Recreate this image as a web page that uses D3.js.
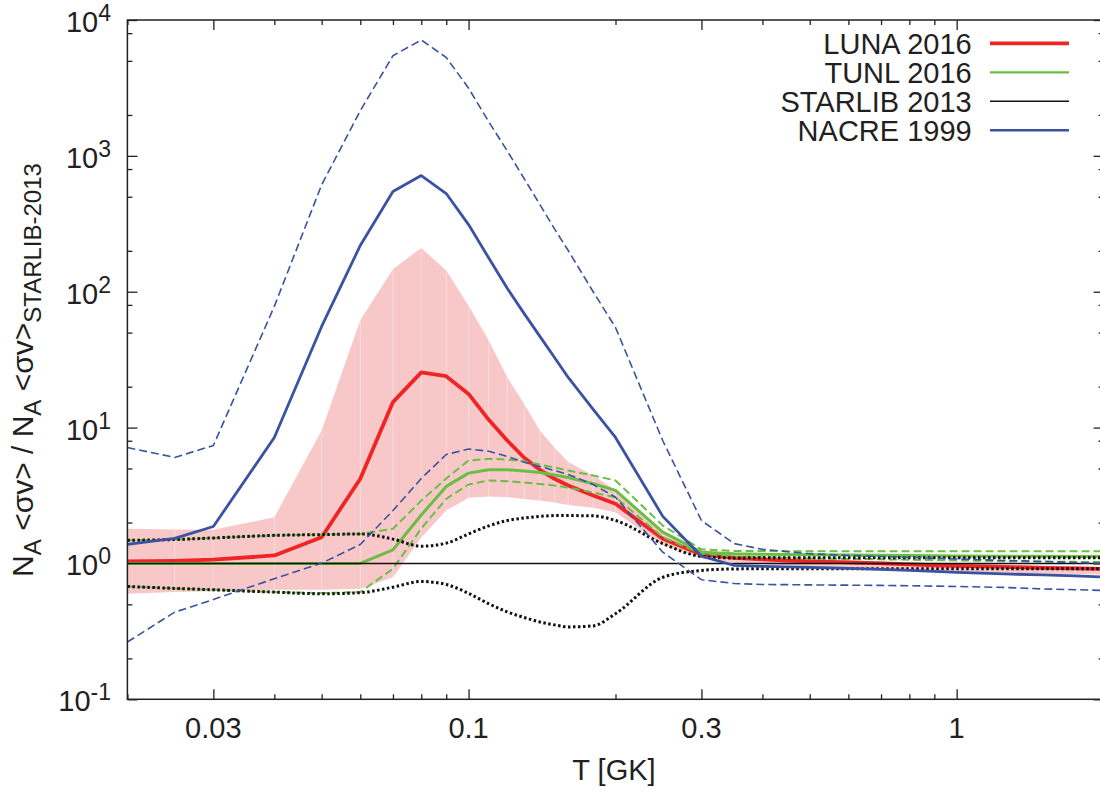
<!DOCTYPE html>
<meta charset="utf-8">
<script src="https://d3js.org/d3.v7.min.js"></script>
<style>
  body { margin: 0; background: #fff; }
  text { font-family: "Liberation Sans", Arial, Helvetica, sans-serif; fill: #231f20; }
</style>
<div id="chart"></div>
<script>

// temperature grid [GK]
var T = [0.02, 0.025, 0.03, 0.04, 0.05, 0.06, 0.07, 0.08, 0.09, 0.1, 0.11, 0.12, 0.13, 0.14, 0.15, 0.16, 0.18, 0.2,
         0.25, 0.3, 0.35, 0.4, 0.45, 0.5, 0.6, 0.7, 0.8, 0.9, 1, 1.25, 1.5, 1.75, 2];

// rate ratios to STARLIB 2013
var luna   = [1.034, 1.046, 1.065, 1.145, 1.56, 4.2, 15.4, 25.5, 23.9, 17.7, 11.4, 8.03, 6.0, 4.89, 4.2, 3.75, 3.16, 2.75,
              1.52, 1.165, 1.098, 1.07, 1.05, 1.034, 1.017, 1.0, 0.983, 0.97, 0.958, 0.942, 0.927, 0.92, 0.911];
var lunaHi = [1.8, 1.78, 1.77, 2.19, 9.52, 61.6, 147, 210, 143, 79, 43.8, 23.5, 14.9, 9.52, 7.14, 5.57, 4.44, 3.45,
              1.75, 1.25, 1.17, 1.13, 1.11, 1.09, 1.06, 1.04, 1.02, 1.01, 1.0, 0.98, 0.965, 0.955, 0.945];
var lunaLo = [0.598, 0.615, 0.625, 0.64, 0.64, 0.65, 0.79, 1.55, 2.45, 3.05, 3.11, 3.07, 2.98, 2.91, 2.81, 2.69, 2.57, 2.38,
              1.36, 1.09, 1.02, 0.99, 0.97, 0.955, 0.93, 0.91, 0.895, 0.88, 0.87, 0.855, 0.845, 0.835, 0.83];

var tunl   = [1, 1, 1, 1, 1, 1, 1.26, 2.27, 3.69, 4.62, 4.89, 4.89, 4.79, 4.67, 4.48, 4.29, 3.86, 3.45,
              1.70, 1.21, 1.178, 1.17, 1.165, 1.16, 1.155, 1.15, 1.145, 1.14, 1.135, 1.13, 1.128, 1.127, 1.126];
var tunlHi = [1.48, 1.5, 1.54, 1.61, 1.63, 1.65, 1.8, 2.9, 4.22, 5.72, 5.89, 5.82, 5.63, 5.34, 5.08, 4.83, 4.44, 4.08,
              1.9, 1.27, 1.236, 1.233, 1.232, 1.232, 1.231, 1.231, 1.23, 1.23, 1.23, 1.23, 1.23, 1.23, 1.23];
var tunlLo = [0.677, 0.655, 0.64, 0.615, 0.605, 0.615, 0.914, 1.81, 2.99, 3.81, 4.08, 4.03, 3.94, 3.84, 3.75, 3.62, 3.33, 3.07,
              1.56, 1.18, 1.126, 1.11, 1.10, 1.088, 1.08, 1.072, 1.065, 1.058, 1.052, 1.04, 1.032, 1.027, 1.022];

var starlib   = [1, 1, 1, 1, 1, 1, 1, 1, 1, 1, 1, 1, 1, 1, 1, 1, 1, 1, 1, 1, 1, 1, 1, 1, 1, 1, 1, 1, 1, 1, 1, 1, 1];
var starlibHi = [1.48, 1.5, 1.54, 1.61, 1.63, 1.65, 1.51, 1.34, 1.41, 1.65, 1.89, 2.07, 2.16, 2.22, 2.25, 2.25, 2.24, 2.07,
                 1.40, 1.126, 1.098, 1.10, 1.10, 1.10, 1.10, 1.10, 1.10, 1.10, 1.10, 1.10, 1.10, 1.10, 1.10];
var starlibLo = [0.677, 0.655, 0.64, 0.615, 0.598, 0.609, 0.669, 0.737, 0.70, 0.602, 0.505, 0.44, 0.40, 0.371, 0.353, 0.341, 0.347, 0.427,
                 0.79, 0.888, 0.911, 0.914, 0.914, 0.914, 0.914, 0.914, 0.914, 0.914, 0.914, 0.914, 0.914, 0.914, 0.914];

var nacre   = [1.38, 1.53, 1.87, 8.45, 55.5, 219, 546, 716, 528, 312, 177, 106, 69, 46.9, 32.8, 23.4, 13.6, 8.46,
               2.22, 1.13, 0.967, 0.95, 0.942, 0.935, 0.919, 0.903, 0.888, 0.873, 0.858, 0.837, 0.823, 0.809, 0.796];
var nacreHi = [7.13, 6.03, 7.38, 78, 612, 2150, 5460, 7130, 5300, 3150, 1780, 1090, 680, 438, 290, 201, 100, 54.5,
               8.0, 2.07, 1.40, 1.27, 1.22, 1.18, 1.145, 1.126, 1.107, 1.093, 1.079, 1.052, 1.034, 1.017, 1.0];
var nacreLo = [0.264, 0.438, 0.543, 0.772, 1.005, 1.38, 2.45, 4.22, 6.34, 6.95, 6.7, 6.13, 5.56, 5.17, 4.83, 4.52, 3.81, 3.07,
               1.21, 0.759, 0.712, 0.70, 0.698, 0.695, 0.692, 0.689, 0.685, 0.681, 0.677, 0.666, 0.649, 0.641, 0.633];

// ticks
var xMajor = [0.03, 0.1, 0.3, 1];
var xMajorLabels = ["0.03", "0.1", "0.3", "1"];
var xMinor = [0.02, 0.04, 0.05, 0.06, 0.07, 0.08, 0.09, 0.2, 0.4, 0.5, 0.6, 0.7, 0.8, 0.9, 2];
var yMajor = [0.1, 1, 10, 100, 1000, 10000];
var yExponents = ["-1", "0", "1", "2", "3", "4"];
var yMinor = [0.2, 0.5, 0.8, 2, 5, 8, 20, 50, 80, 200, 500, 800, 2000, 5000, 8000];

var legendNames = ["LUNA 2016", "TUNL 2016", "STARLIB 2013", "NACRE 1999"];

var red = "#ee2524", green = "#6bbd45", blue = "#3a52a2", black = "#111", pink = "#f8c8c9";

var W = 1100, H = 793;
var mLeft = 127.4, mRight = 1103.6, mTop = 20, mBottom = 699.3;

var svg = d3.select("#chart").append("svg")
    .attr("width", W).attr("height", H);
svg.append("rect").attr("width", W).attr("height", H).attr("fill", "#fff");

var x = d3.scaleLog().domain([0.02, 2]).range([mLeft, mRight]);
var y = d3.scaleLog().domain([0.1, 10000]).range([mBottom, mTop]);

// ---- ticks (drawn behind the data) ----
function tickAxis(axis, tr) {
  var g = svg.append("g").attr("transform", tr).call(axis);
  g.select(".domain").remove();
  g.selectAll(".tick line").attr("stroke", "#231f20").attr("stroke-width", 1.3);
  g.selectAll(".tick text").remove();
  return g;
}
tickAxis(d3.axisBottom(x).tickValues(xMajor).tickSize(-10), "translate(0," + mBottom + ")");
tickAxis(d3.axisBottom(x).tickValues(xMinor).tickSize(-5), "translate(0," + mBottom + ")");
tickAxis(d3.axisTop(x).tickValues(xMajor).tickSize(-10), "translate(0," + mTop + ")");
tickAxis(d3.axisTop(x).tickValues(xMinor).tickSize(-5), "translate(0," + mTop + ")");
tickAxis(d3.axisLeft(y).tickValues(yMajor).tickSize(-10), "translate(" + mLeft + ",0)");
tickAxis(d3.axisLeft(y).tickValues(yMinor).tickSize(-5), "translate(" + mLeft + ",0)");
tickAxis(d3.axisRight(y).tickValues(yMajor).tickSize(-10), "translate(" + mRight + ",0)");
tickAxis(d3.axisRight(y).tickValues(yMinor).tickSize(-5), "translate(" + mRight + ",0)");

// ---- data ----
svg.append("clipPath").attr("id", "clip")
  .append("rect").attr("x", mLeft).attr("y", mTop).attr("width", mRight - mLeft).attr("height", mBottom - mTop);
var plot = svg.append("g").attr("clip-path", "url(#clip)");

function pts(arr) { return arr.map(function(v, i) { return [T[i], v]; }); }

var band = T.map(function(t, i) { return { t: t, lo: lunaLo[i], hi: lunaHi[i] }; });
plot.append("path")
  .datum(band)
  .attr("fill", pink)
  .attr("d", d3.area()
    .x(function(d) { return x(d.t); })
    .y0(function(d) { return y(d.lo); })
    .y1(function(d) { return y(d.hi); }));
// seams of the filled band
plot.selectAll(".seam")
  .data(band.slice(1, -1))
  .enter().append("line")
  .attr("class", "seam")
  .attr("x1", function(d) { return x(d.t); }).attr("x2", function(d) { return x(d.t); })
  .attr("y1", function(d) { return y(d.lo); }).attr("y2", function(d) { return y(d.hi); })
  .attr("stroke", "#fff").attr("stroke-opacity", 0.45).attr("stroke-width", 0.8);

var line = d3.line().x(function(d) { return x(d[0]); }).y(function(d) { return y(d[1]); });
var smooth = d3.line().curve(d3.curveMonotoneX).x(function(d) { return x(d[0]); }).y(function(d) { return y(d[1]); });

function draw(arr, gen, color, width, dash) {
  plot.append("path")
    .datum(pts(arr))
    .attr("fill", "none")
    .attr("stroke", color)
    .attr("stroke-width", width)
    .attr("stroke-dasharray", dash || null)
    .attr("stroke-linejoin", "round")
    .attr("d", gen);
}

draw(luna, line, red, 3.8);
draw(tunlHi, line, green, 2, "8,4");
draw(tunlLo, line, green, 2, "8,4");
draw(tunl, line, green, 3);
draw(starlibHi, smooth, black, 3, "2.5,2.5");
draw(starlibLo, smooth, black, 3, "2.5,2.5");
draw(starlib, line, black, 1.4);
draw(nacreHi, line, blue, 1.6, "8,4");
draw(nacreLo, line, blue, 1.6, "8,4");
draw(nacre, line, blue, 2.8);

// frame
svg.append("rect")
  .attr("x", mLeft).attr("y", mTop).attr("width", mRight - mLeft).attr("height", mBottom - mTop)
  .attr("fill", "none").attr("stroke", "#231f20").attr("stroke-width", 1.5);

// ---- tick labels ----
svg.selectAll(".xl")
  .data(xMajor)
  .enter().append("text")
  .attr("class", "xl")
  .attr("x", function(d) { return x(d); })
  .attr("y", 738)
  .attr("text-anchor", "middle")
  .attr("font-size", 29)
  .text(function(d, i) { return xMajorLabels[i]; });

var yl = svg.selectAll(".yl")
  .data(yMajor)
  .enter().append("text")
  .attr("class", "yl")
  .attr("x", 111)
  .attr("y", function(d) { return y(d) + 12; })
  .attr("text-anchor", "end")
  .attr("font-size", 29);
yl.append("tspan").text("10");
yl.append("tspan").attr("font-size", 23).attr("dy", -11).text(function(d, i) { return yExponents[i]; });

// axis titles
svg.append("text")
  .attr("x", 614).attr("y", 780)
  .attr("text-anchor", "middle")
  .attr("font-size", 29)
  .text("T [GK]");

var yt = svg.append("text")
  .attr("transform", "translate(33,370) rotate(-90)")
  .attr("text-anchor", "middle")
  .attr("font-size", 30);
yt.append("tspan").text("N");
yt.append("tspan").attr("font-size", 24).attr("dy", 8).text("A");
yt.append("tspan").attr("dy", -8).text(" <σv> / N");
yt.append("tspan").attr("font-size", 24).attr("dy", 8).text("A");
yt.append("tspan").attr("dy", -8).text(" <σv>");
yt.append("tspan").attr("font-size", 24).attr("dy", 8).text("STARLIB-2013");

// ---- legend ----
var legendColors = [red, green, black, blue];
var legendWidths = [3.8, 2.2, 1.4, 2.4];
var lg = svg.selectAll(".lg")
  .data(legendNames)
  .enter().append("g")
  .attr("class", "lg")
  .attr("transform", function(d, i) { return "translate(0," + (43.3 + i * 29) + ")"; });
lg.append("text")
  .attr("x", 971.7).attr("y", 11)
  .attr("text-anchor", "end")
  .attr("font-size", 29)
  .text(function(d) { return d; });
lg.append("line")
  .attr("x1", 990).attr("x2", 1069)
  .attr("stroke", function(d, i) { return legendColors[i]; })
  .attr("stroke-width", function(d, i) { return legendWidths[i]; });

</script>
